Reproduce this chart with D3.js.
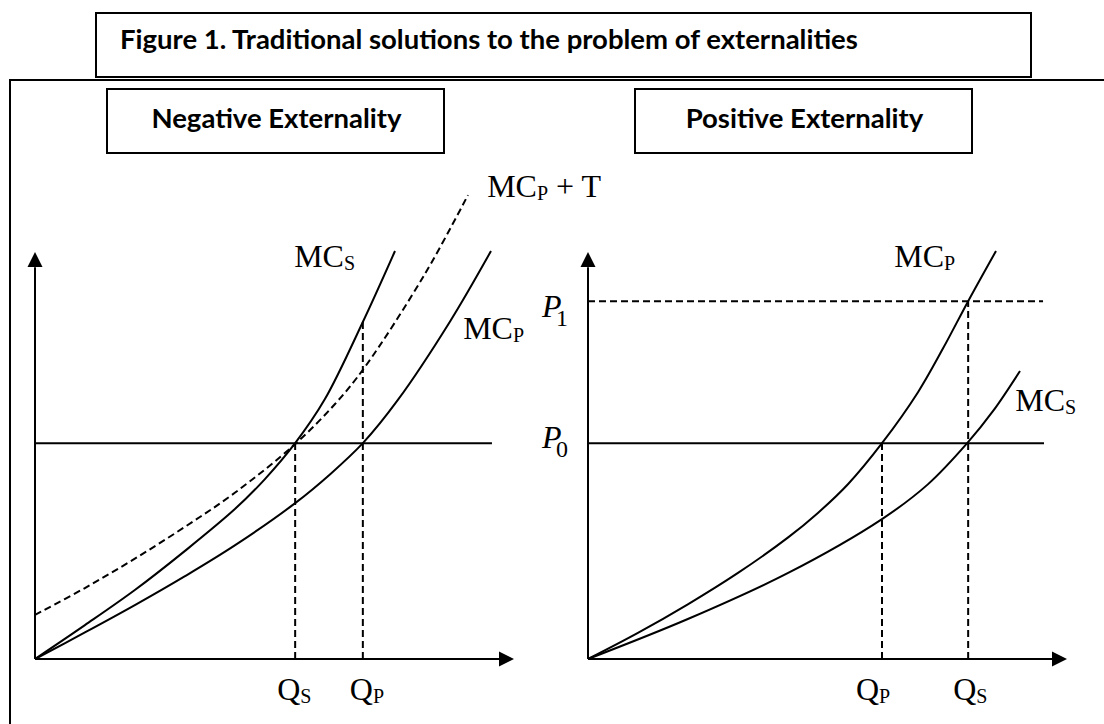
<!DOCTYPE html>
<html>
<head>
<meta charset="utf-8">
<script src="https://cdn.jsdelivr.net/npm/d3@7"></script>
<style>
  body { margin: 0; background: #fff; }
  svg { display: block; }
</style>
</head>
<body>
<div id="chart"></div>
<script>
// texts
const titleText = "Figure 1. Traditional solutions to the problem of externalities"
const panelTitles = ["Negative Externality", "Positive Externality"]

// left panel: negative externality (quantity, price in arbitrary units 0-100)
const negMCS = [[0,0],[10.4,8.3],[20.8,16.9],[31.25,26.5],[41.7,36.8],[47.9,44.1],[54.2,52.9],[60.4,63.7],[68.3,82.6],[75,100]]
const negMCP = [[0,0],[10.4,6.5],[20.8,13.2],[31.25,20.3],[41.7,27.9],[54.2,38.2],[61.5,45.3],[68.3,52.9],[75.6,63.5],[86.5,82.8],[95,100]]
const negMCPT = [[0,10.8],[10.4,17.4],[20.8,24.6],[31.25,32.4],[41.7,40.8],[54.2,52.7],[62.5,62.5],[68.75,71.6],[81.25,94.4],[90.2,113.7]]
const negQs = 54.2, negQp = 68.3, negMCSatQp = 82.6
const negP0 = 52.9, negP0End = 95.2

// right panel: positive externality
const posMCP = [[0,0],[10.4,6.4],[20.8,13.4],[31.25,21.1],[41.7,29.8],[47.9,35.8],[54.2,42.9],[61.25,52.9],[68.75,65.4],[74,76.2],[79.2,87.7],[85,100]]
const posMCS = [[0,0],[20.8,9.8],[41.7,21.1],[61.25,34.3],[70.8,42.8],[79,52.9],[84.4,60.8],[90,70.6]]
const posQp = 61.25, posQs = 79.2
const posP0 = 52.9, posP1 = 87.7, posLineEnd = 95

async function drawChart() {
  const width = 1104, height = 724

  const svg = d3.select("#chart").append("svg")
      .attr("width", width)
      .attr("height", height)

  // scales: same price axis for both panels
  const xNeg = d3.scaleLinear().domain([0, 100]).range([35, 515])
  const xPos = d3.scaleLinear().domain([0, 100]).range([588, 1068])
  const y = d3.scaleLinear().domain([0, 100]).range([659, 251])

  const sans = "Lato, 'Liberation Sans', sans-serif"
  const serif = "'Liberation Serif', 'Times New Roman', serif"

  // frame + title boxes
  svg.append("path")
      .attr("d", "M10,724 V80 H1104")
      .attr("fill", "none").attr("stroke", "#000").attr("stroke-width", 2)

  svg.append("rect")
      .attr("x", 96).attr("y", 13).attr("width", 935).attr("height", 64)
      .attr("fill", "#fff").attr("stroke", "#000").attr("stroke-width", 2)

  // title sized to the width it takes in the original
  const title = svg.append("text").attr("x", 120).attr("y", 49)
      .attr("font-family", sans).attr("font-weight", "bold").attr("font-size", 100)
      .text(titleText)
  const titleSize = 100 * 738 / title.node().getComputedTextLength()
  title.attr("font-size", titleSize)

  const boxes = [{x: 107, w: 337}, {x: 635, w: 337}]
  boxes.forEach((b, i) => {
    svg.append("rect")
        .attr("x", b.x).attr("y", 89).attr("width", b.w).attr("height", 64)
        .attr("fill", "none").attr("stroke", "#000").attr("stroke-width", 2)
    svg.append("text")
        .attr("x", b.x + b.w / 2 + 1).attr("y", 128)
        .attr("text-anchor", "middle")
        .attr("font-family", sans).attr("font-weight", "bold").attr("font-size", titleSize)
        .text(panelTitles[i])
  })

  const line = (x) => d3.line()
      .x(d => x(d[0]))
      .y(d => y(d[1]))
      .curve(d3.curveCatmullRom.alpha(0.5))

  function drawAxes(x) {
    const g = svg.append("g")
    g.append("line")
        .attr("x1", x(0)).attr("x2", x(0)).attr("y1", y(0)).attr("y2", y(96))
        .attr("stroke", "#000").attr("stroke-width", 2)
    g.append("line")
        .attr("x1", x(0)).attr("x2", x(97)).attr("y1", y(0)).attr("y2", y(0))
        .attr("stroke", "#000").attr("stroke-width", 2)
    // arrow heads
    const tx = x(0), ty = y(100) + 1
    g.append("path")
        .attr("d", `M${tx},${ty} L${tx - 7.5},${ty + 15} L${tx + 7.5},${ty + 15} Z`)
    const rx = x(100) - 1, ry = y(0)
    g.append("path")
        .attr("d", `M${rx},${ry} L${rx - 15},${ry - 7.5} L${rx - 15},${ry + 7.5} Z`)
    return g
  }

  function hLine(x, x0, x1, p, dashed) {
    svg.append("line")
        .attr("x1", x(x0)).attr("x2", x(x1)).attr("y1", y(p)).attr("y2", y(p))
        .attr("stroke", "#000").attr("stroke-width", 2)
        .attr("stroke-dasharray", dashed ? "7,4" : null)
  }
  function vLine(x, q, p) {
    svg.append("line")
        .attr("x1", x(q)).attr("x2", x(q)).attr("y1", y(0)).attr("y2", y(p))
        .attr("stroke", "#000").attr("stroke-width", 2)
        .attr("stroke-dasharray", "7,4")
  }
  function curve(x, data, dashed) {
    svg.append("path")
        .datum(data)
        .attr("d", line(x))
        .attr("fill", "none")
        .attr("stroke", "#000")
        .attr("stroke-width", 2)
        .attr("stroke-dasharray", dashed ? "7,4" : null)
  }
  // label like MC with subscript, optional trailing text
  function label(px, py, main, sub, tail) {
    const t = svg.append("text")
        .attr("x", px).attr("y", py)
        .attr("font-family", serif).attr("font-size", 32)
    t.append("tspan").text(main)
    t.append("tspan").attr("font-size", 20).attr("dy", 3).text(sub)
    if (tail) t.append("tspan").attr("dy", -3).text(tail)
  }
  function priceLabel(px, py, sub) {
    svg.append("text")
        .attr("x", px).attr("y", py)
        .attr("font-family", serif).attr("font-style", "italic").attr("font-size", 32)
        .text("P")
    svg.append("text")
        .attr("x", px + 14).attr("y", py + 9)
        .attr("font-family", serif).attr("font-size", 24)
        .text(sub)
  }

  // left panel
  drawAxes(xNeg)
  hLine(xNeg, 0, negP0End, negP0, false)
  vLine(xNeg, negQs, negP0)
  vLine(xNeg, negQp, negMCSatQp)
  curve(xNeg, negMCPT, true)
  curve(xNeg, negMCS, false)
  curve(xNeg, negMCP, false)

  label(xNeg(negQs) - 1, y(100) + 16, "MC", "S")
  label(xNeg(89.2), y(78.4), "MC", "P")
  label(xNeg(94.2), y(113.2), "MC", "P", " + T")
  label(xNeg(negQs) - 18, y(0) + 41, "Q", "S")
  label(xNeg(negQp) - 13, y(0) + 41, "Q", "P")

  // right panel
  drawAxes(xPos)
  hLine(xPos, 0, posLineEnd, posP0, false)
  hLine(xPos, 0, 94.8, posP1, true)
  vLine(xPos, posQp, posP0)
  vLine(xPos, posQs, posP1)
  curve(xPos, posMCP, false)
  curve(xPos, posMCS, false)

  label(xPos(63.8), y(100) + 16, "MC", "P")
  label(xPos(89), y(60.8), "MC", "S")
  label(xPos(posQp) - 26, y(0) + 41, "Q", "P")
  label(xPos(posQs) - 15, y(0) + 41, "Q", "S")
  priceLabel(xPos(0) - 46, y(posP1) + 16, "1")
  priceLabel(xPos(0) - 46, y(posP0) + 5, "0")
}

drawChart()
</script>
</body>
</html>
